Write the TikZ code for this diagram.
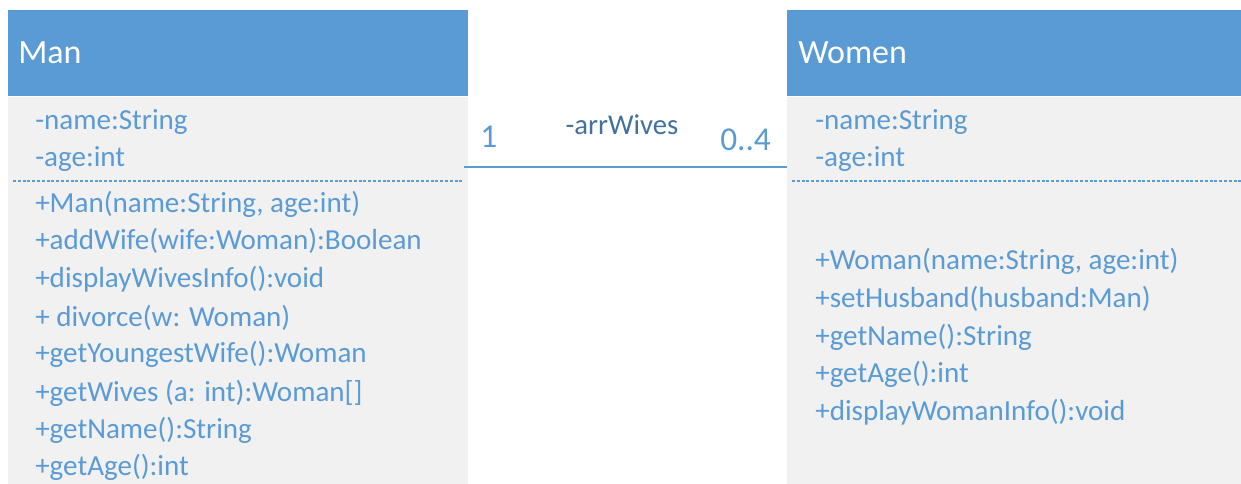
\documentclass[tikz,border=0pt]{standalone}
\usepackage{fontspec}
\setmainfont{Carlito}
\definecolor{hdr}{HTML}{5B9BD5}
\definecolor{txt}{HTML}{5B9BD5}
\definecolor{dark}{HTML}{41719C}
\definecolor{body}{HTML}{F1F1F1}
\begin{document}
\begin{tikzpicture}[x=0.75pt,y=-0.75pt,
  hbox/.style={fill=hdr,draw=none,anchor=north west,inner sep=0,minimum height=64.5pt},
  bbox/.style={fill=body,draw=none,anchor=north west,inner sep=0,minimum height=290.25pt},
  title/.style={anchor=base west,inner sep=0,text=white,font=\fontsize{25.5}{28}\selectfont},
  member/.style={anchor=base west,inner sep=0,text=txt,font=\fontsize{21.8}{24}\selectfont},
  mult/.style={anchor=base west,inner sep=0,text=txt,font=\fontsize{25}{28}\selectfont},
  role/.style={anchor=base,inner sep=0,text=dark,font=\fontsize{21.5}{24}\selectfont},
  sep/.style={draw=txt,line width=1.1pt,dash pattern=on 2.2pt off 1.4pt},
  assoc/.style={draw=txt,line width=1.4pt}]
\useasboundingbox (0,0) rectangle (1241,484);
% Man class
\node[hbox,minimum width=345pt] (manh) at (8,10) {};
\node[bbox,minimum width=345pt] (man) at (8,97) {};
\node[title] (mant) at (18,64) {Man};
\node[member] (m1) at (35,130) {-name:String};
\node[member] (m2) at (35,167) {-age:int};
\draw[sep] (13,181) -- (462,181);
\node[member] (m3) at (35,213) {+Man(name:String, age:int)};
\node[member] (m4) at (35,250) {+addWife(wife:Woman):Boolean};
\node[member] (m5) at (35,288) {+displayWivesInfo():void};
\node[member] (m6) at (35,326) {+ divorce(w: Woman)};
\node[member] (m7) at (35,363) {+getYoungestWife():Woman};
\node[member] (m8) at (35,401) {+getWives (a: int):Woman[]};
\node[member] (m9) at (35,438) {+getName():String};
\node[member] (m10) at (35,475) {+getAge():int};
% Women class
\node[hbox,minimum width=340.5pt] (womh) at (787,10) {};
\node[bbox,minimum width=340.5pt] (wom) at (787,97) {};
\node[title] (wt) at (798,64) {Women};
\node[member] (w1) at (815,130) {-name:String};
\node[member] (w2) at (815,167) {-age:int};
\draw[sep] (792,181) -- (1241,181);
\node[member] (w3) at (815,270) {+Woman(name:String, age:int)};
\node[member] (w4) at (815,308) {+setHusband(husband:Man)};
\node[member] (w5) at (815,345) {+getName():String};
\node[member] (w6) at (815,382) {+getAge():int};
\node[member] (w7) at (815,420) {+displayWomanInfo():void};
% association
\coordinate (ay) at (0,167);
\draw[assoc] ([xshift=-3.75pt]man.east |- ay) -- (wom.west |- ay);
\node[mult] (one) at (480,148) {1};
\node[role] (rw) at (622,135) {-arrWives};
\node[mult] (many) at (720,151) {0..4};
\end{tikzpicture}
\end{document}
